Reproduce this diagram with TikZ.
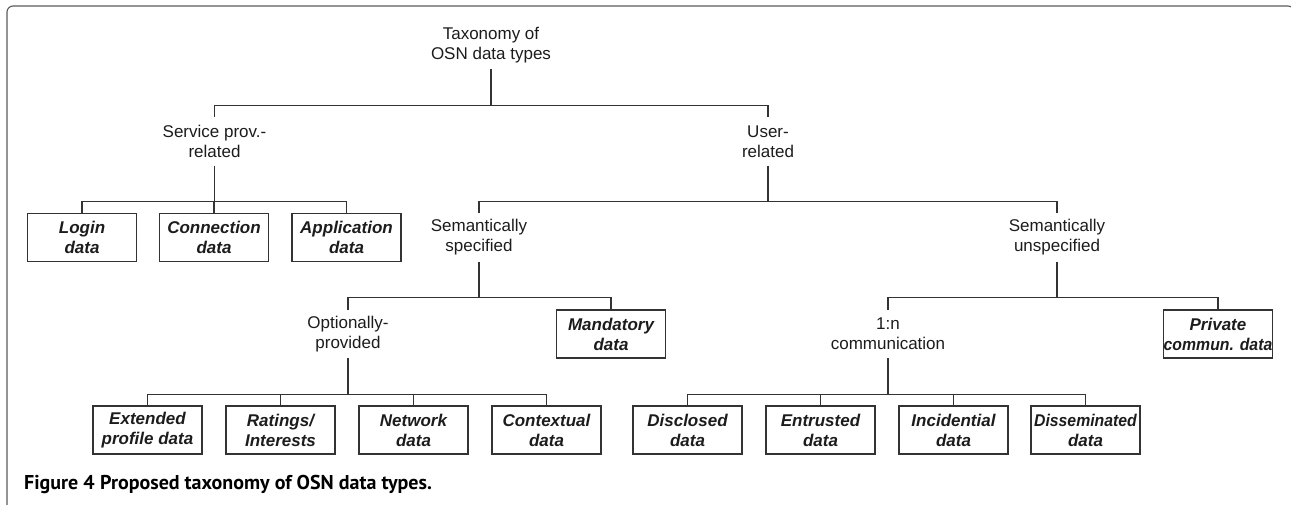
\documentclass[tikz,border=0pt]{standalone}
\usepackage{graphicx}
\usepackage{fontspec}
\setmainfont{Liberation Sans}
\newfontfamily\capfont{PT Sans}
\definecolor{ink}{HTML}{1C1C1C}
\definecolor{wire}{HTML}{333333}
\definecolor{framegray}{HTML}{5A5A5A}
% squeeze a line that is wider than its box
\newcommand{\narrowline}[1]{\scalebox{0.93}[1]{#1}}
\tikzset{
  cell/.style={minimum width=109pt, minimum height=48pt, inner sep=0pt, align=center, text=ink},
  label/.style={cell, font=\fontsize{17}{20}\selectfont},
  leaf/.style={cell, draw=wire, line width=1.1pt, font=\fontsize{17}{20}\selectfont\bfseries\itshape},
  stem/.style={draw=wire, line width=1.8pt},
  branch/.style={draw=wire, line width=1.1pt},
}
\begin{document}
\begin{tikzpicture}[x=1pt, y=-1pt]
  \useasboundingbox (0,0) rectangle (1291,504);
  \begin{scope}
    \clip (0,0) rectangle (1291,504);
    % open page frame
    \draw[framegray, line width=1.1pt, rounded corners=6pt]
      (7,530) -- (7,6) -- (1294,6) -- (1294,530);
  \end{scope}

  % level 0
  \node[label] (root) at (491,45) {Taxonomy of\\OSN data types};
  % level 1
  \node[label] (sp) at (214.5,141.5) {Service prov.-\\related};
  \node[label] (user) at (768,141.5) {User-\\related};
  % level 2
  \node[leaf] (login) at (82,237.5) {Login\\data};
  \node[leaf] (conn) at (214,237.5) {Connection\\data};
  \node[leaf] (app) at (346.5,237.5) {Application\\data};
  \node[label] (sspec) at (479,237.5) {Semantically\\specified};
  \node[label] (sunspec) at (1057,237.5) {Semantically\\unspecified};
  % level 3
  \node[label] (opt) at (348,334) {Optionally-\\provided};
  \node[leaf] (mand) at (611,334) {Mandatory\\data};
  \node[label] (onen) at (888,334) {1:n\\communication};
  \node[leaf] (priv) at (1218,334) {Private\\\narrowline{commun. data}};
  % level 4
  \node[leaf] (ext) at (147.5,430) {Extended\\profile data};
  \node[leaf] (rate) at (280.5,430) {Ratings/\\Interests};
  \node[leaf] (net) at (413.5,430) {Network\\data};
  \node[leaf] (ctx) at (546.5,430) {Contextual\\data};
  \node[leaf] (disc) at (687.5,430) {Disclosed\\data};
  \node[leaf] (entr) at (820.5,430) {Entrusted\\data};
  \node[leaf] (inci) at (953.5,430) {Incidential\\data};
  \node[leaf] (diss) at (1085.5,430) {\narrowline{Disseminated}\\data};

  % junctions below each parent
  \foreach \p in {root, sp, user, sspec, sunspec, opt, onen}
    \coordinate (j-\p) at ([yshift=-36pt]\p.south);

  % stems
  \foreach \p in {root, sp, user, sspec, sunspec, opt, onen}
    \draw[stem] (\p.south) -- (j-\p);

  % branches
  \foreach \p/\c in {root/sp, root/user,
                     sp/login, sp/conn, sp/app,
                     user/sspec, user/sunspec,
                     sspec/opt, sspec/mand,
                     sunspec/onen, sunspec/priv,
                     opt/ext, opt/rate, opt/net, opt/ctx,
                     onen/disc, onen/entr, onen/inci, onen/diss}
    \draw[branch] (j-\p) -| (\c.north);

  % caption
  \node[anchor=base west, inner sep=0pt, text=black,
        font=\capfont\fontsize{20}{24}\selectfont]
    (cap) at (24,489) {\textbf{Figure 4} \textbf{Proposed taxonomy of OSN data types.}};
\end{tikzpicture}
\end{document}
